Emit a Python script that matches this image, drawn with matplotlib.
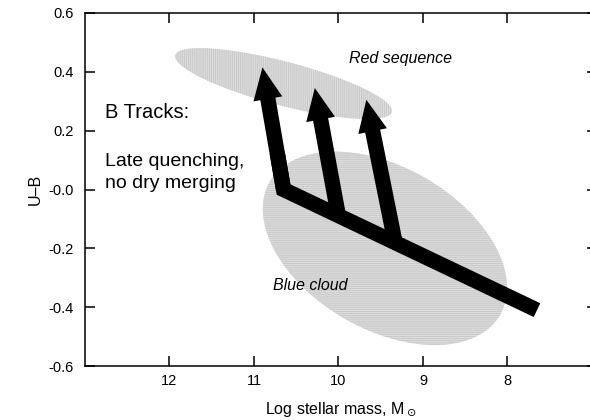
import numpy as np
import matplotlib
matplotlib.use("Agg")
import matplotlib.pyplot as plt
from matplotlib.patches import Ellipse, FancyArrowPatch, ArrowStyle
from matplotlib.transforms import Affine2D

plt.rcParams['font.family'] = ['Liberation Sans', 'DejaVu Sans']
plt.rcParams['hatch.linewidth'] = 0.8

# axis ticks
x_ticks = [12, 11, 10, 9, 8]
y_ticks = [0.6, 0.4, 0.2, 0.0, -0.2, -0.4, -0.6]
y_tick_labels = ['0.6', '0.4', '0.2', '-0.0', '-0.2', '-0.4', '-0.6']

# blue-cloud track (mass, U-B): knee -> low-mass end
track_x = [10.65, 7.65]
track_y = [0.0, -0.41]

# quenching arrows: start on the track, end in the red sequence
quench_x0 = [10.65, 10.0, 9.33]
quench_y0 = [0.0, -0.09, -0.18]
quench_x1 = [10.9, 10.28, 9.67]
quench_y1 = [0.415, 0.345, 0.305]

# regions: centre, full axes (in mass units), tilt in degrees
red_seq = dict(x=10.65, y=0.36, w=2.65, h=0.52, angle=14.7)
blue_cloud = dict(x=9.45, y=-0.20, w=3.15, h=1.92, angle=30.0)

fig = plt.figure(figsize=(5.9, 4.2), dpi=100)
ax = fig.add_axes([85 / 590, 54 / 420, 512 / 590, 353 / 420])
ax.set_xlim(13, 6.94)
ax.set_ylim(-0.6, 0.6)

# y stretch so ellipses can be specified with a true rotation
pos = ax.get_position()
w_in = pos.width * fig.get_figwidth()
h_in = pos.height * fig.get_figheight()
k = (h_in / 1.2) / (w_in / abs(13 - 6.94))
stretch = Affine2D().scale(1, 1 / k) + ax.transData


def region(r, hatch):
    base = Ellipse((r['x'], r['y'] * k), r['w'], r['h'], angle=r['angle'],
                   transform=stretch, facecolor='#dedede', edgecolor='none', zorder=1)
    lines = Ellipse((r['x'], r['y'] * k), r['w'], r['h'], angle=r['angle'],
                    transform=stretch, facecolor='none', edgecolor='#cacaca',
                    linewidth=0, hatch=hatch, zorder=1)
    ax.add_patch(base)
    ax.add_patch(lines)


region(red_seq, '||||||||')
region(blue_cloud, '--------')

# main track, joined to the first arrow at the knee
shaft = 11
mid_x = quench_x0[0] + 0.3 * (quench_x1[0] - quench_x0[0])
mid_y = quench_y0[0] + 0.3 * (quench_y1[0] - quench_y0[0])
ax.plot([mid_x] + track_x, [mid_y] + track_y, color='black', lw=shaft,
        solid_joinstyle='miter', solid_capstyle='butt', zorder=3)

style = ArrowStyle.Simple(head_length=23, head_width=21, tail_width=shaft)
for x0, y0, x1, y1 in zip(quench_x0, quench_y0, quench_x1, quench_y1):
    arr = FancyArrowPatch((x0, y0), (x1, y1), arrowstyle=style, mutation_scale=1,
                          color='black', lw=0, shrinkA=0, shrinkB=0, zorder=4)
    ax.add_patch(arr)

ax.text(12.76, 0.263, 'B Tracks:', fontsize=14.5, ha='left', va='center')
ax.text(12.76, 0.058, 'Late quenching,\nno dry merging', fontsize=14,
        ha='left', va='center', linespacing=1.4)
ax.text(9.26, 0.444, 'Red sequence', fontsize=11.5, style='italic', ha='center', va='center')
ax.text(10.33, -0.325, 'Blue cloud', fontsize=11.5, style='italic', ha='center', va='center')

ax.set_xticks(x_ticks)
ax.set_yticks(y_ticks)
ax.set_yticklabels(y_tick_labels)
ax.tick_params(direction='in', length=7, width=1.1, labelsize=10.5,
               top=True, right=True, pad=6)
ax.tick_params(axis='y', pad=8)
for s in ax.spines.values():
    s.set_linewidth(1.1)

ax.set_xlabel('Log stellar mass, M$_\\odot$', fontsize=11.5, labelpad=9)
ax.set_ylabel('U\u2013B', fontsize=11.5, labelpad=4)

fig.savefig('out.png', dpi=100)
